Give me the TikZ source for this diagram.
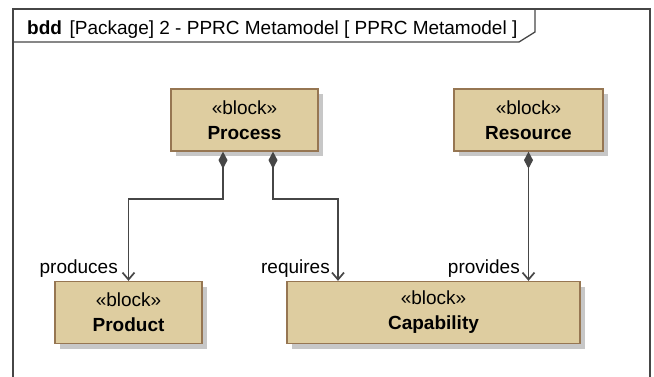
\documentclass[tikz,border=0pt]{standalone}
\usepackage{fontspec}
\setmainfont{Liberation Sans}
\usetikzlibrary{arrows.meta,positioning,shadows}
\definecolor{blockfill}{RGB}{222,205,160}
\definecolor{blockdraw}{RGB}{150,118,82}
\definecolor{linegrey}{RGB}{70,70,70}

\begin{document}
\begin{tikzpicture}[
  x=1pt, y=-1pt,
  font=\fontsize{19}{23}\selectfont,
  box/.style={draw=blockdraw, fill=blockfill, line width=1.3pt, align=center,
              inner sep=0pt, minimum height=62pt,
              drop shadow={shadow xshift=5pt, shadow yshift=-5pt, fill=black!22, opacity=1}},
  lbl/.style={anchor=base east, inner sep=0pt},
  frm/.style={draw=linegrey, line width=1.3pt},
  comp/.style={draw=linegrey, line width=1.7pt,
               {Diamond[length=17pt,width=9pt]}-{Straight Barb[length=7pt,width=12pt]}}
]
\clip (0,0) rectangle (654,377);
% --- diagram frame with header tab ---------------------------------------
\draw[frm] (13,390) -- (13,9) -- (650,9) -- (650,390);
\draw[frm] (13,42) -- (519,42) -- (535,32) -- (535,9);
\node[anchor=base west, inner sep=0pt] (hdr) at (27,35)
     {\textbf{bdd}\hspace{0.4em}[Package] 2 - PPRC Metamodel [ PPRC Metamodel ]};

% --- blocks ----------------------------------------------------------------
\node[box, minimum width=147pt] (proc) at (244.5,120) {«block»\\[2pt]\textbf{Process}};
\node[box, minimum width=149pt] (res)  at (528.5,120) {«block»\\[2pt]\textbf{Resource}};
\node[box, minimum width=147pt] (prod) at (128.5,312.5) {«block»\\[2pt]\textbf{Product}};
\node[box, minimum width=293pt] (cap)  at (433.5,312.5) {«block»\\[2pt]\textbf{Capability}};

% --- composition connectors ------------------------------------------------
\coordinate (e1) at (223,199);
\coordinate (e2) at (273,199);
\coordinate (e3) at (338,199);
\draw[comp] (proc.south -| e1) -- (e1) -| (prod.north);
\draw[comp] (proc.south -| e2) -- (e2) -- (e3) -- (cap.north -| e3);
\draw[comp] (res.south) -- (cap.north -| res.south);

% --- role labels -----------------------------------------------------------
\node[lbl] (lprod) at (118,273) {produces};
\node[lbl] (lreq)  at (330,273) {requires};
\node[lbl] (lprov) at (520,273) {provides};

\end{tikzpicture}
\end{document}
